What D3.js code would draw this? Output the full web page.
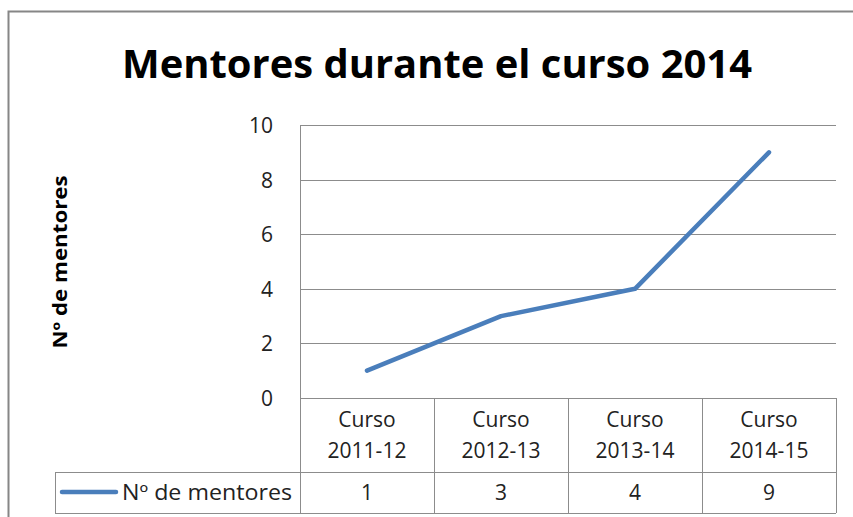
<!DOCTYPE html>
<html>
<head>
<meta charset="utf-8">
<script src="https://cdn.jsdelivr.net/npm/d3@7"></script>
<style>
  body { margin: 0; background: #fff; }
  text { font-family: "Open Sans", "DejaVu Sans", sans-serif; }
</style>
</head>
<body>
<script>
var w = 853;
var h = 517;

// data
var cursos = ["Curso 2011-12", "Curso 2012-13", "Curso 2013-14", "Curso 2014-15"];
var mentores = [1, 3, 4, 9];
var yTicks = [0, 2, 4, 6, 8, 10];
var serie = "Nº de mentores";
var titulo = "Mentores durante el curso 2014";

var plotL = 300, plotR = 836, plotT = 125, plotB = 398;
var legendLeft = 55, row1 = 472, row2 = 513;
var fs = 21;

var svg = d3.select("body").append("svg")
  .attr("width", w)
  .attr("height", h);

// chart border
svg.append("rect")
  .attr("x", 8.5).attr("y", 11.5)
  .attr("width", 860).attr("height", 520)
  .attr("fill", "none").attr("stroke", "#868686").attr("stroke-width", 2);

var x = d3.scaleBand().domain(cursos).range([plotL, plotR]);
var y = d3.scaleLinear().domain([0, 10]).range([plotB, plotT]);

// grid lines
svg.selectAll(".grid")
  .data(yTicks)
  .enter().append("line")
  .attr("x1", plotL).attr("x2", plotR)
  .attr("y1", function(d) { return Math.round(y(d)) + 0.5; })
  .attr("y2", function(d) { return Math.round(y(d)) + 0.5; })
  .attr("stroke", "#8c8c8c").attr("stroke-width", 1);

// y axis line
svg.append("line")
  .attr("x1", plotL + 0.5).attr("x2", plotL + 0.5)
  .attr("y1", plotT).attr("y2", plotB)
  .attr("stroke", "#8c8c8c");

// y tick labels
svg.selectAll(".ylab")
  .data(yTicks)
  .enter().append("text")
  .attr("x", 273)
  .attr("y", function(d) { return y(d) + 8; })
  .attr("text-anchor", "end")
  .attr("font-size", fs)
  .attr("fill", "#222")
  .text(function(d) { return d; });

// title
svg.append("text")
  .attr("x", 437).attr("y", 78)
  .attr("text-anchor", "middle")
  .attr("font-size", 40)
  .attr("font-weight", "bold")
  .attr("textLength", 630)
  .attr("lengthAdjust", "spacingAndGlyphs")
  .attr("fill", "#000")
  .text(titulo);

// y axis title
svg.append("text")
  .attr("transform", "translate(67,262) rotate(-90)")
  .attr("text-anchor", "middle")
  .attr("font-size", 19)
  .attr("font-weight", "bold")
  .attr("textLength", 173)
  .attr("lengthAdjust", "spacingAndGlyphs")
  .text(serie);

// data table
var gt = svg.append("g").attr("stroke", "#8c8c8c").attr("stroke-width", 1);
gt.append("line").attr("x1", legendLeft).attr("x2", plotR)
  .attr("y1", row1 + 0.5).attr("y2", row1 + 0.5);
gt.append("line").attr("x1", legendLeft).attr("x2", plotR)
  .attr("y1", row2 + 0.5).attr("y2", row2 + 0.5);
gt.append("line").attr("x1", legendLeft + 0.5).attr("x2", legendLeft + 0.5)
  .attr("y1", row1).attr("y2", row2);
gt.selectAll(".vl")
  .data(cursos.concat(["end"]))
  .enter().append("line")
  .attr("x1", function(d, i) { return Math.round(plotL + i * x.bandwidth()) + 0.5; })
  .attr("x2", function(d, i) { return Math.round(plotL + i * x.bandwidth()) + 0.5; })
  .attr("y1", plotB).attr("y2", row2);

// category labels
cursos.forEach(function(c) {
  var parts = c.split(" ");
  var t = svg.append("text")
    .attr("text-anchor", "middle")
    .attr("font-size", fs)
    .attr("fill", "#222");
  t.append("tspan").attr("x", x(c) + x.bandwidth() / 2).attr("y", 427).text(parts[0]);
  t.append("tspan").attr("x", x(c) + x.bandwidth() / 2).attr("y", 458).text(parts[1]);
});

// values in table
svg.selectAll(".val")
  .data(mentores)
  .enter().append("text")
  .attr("x", function(d, i) { return x(cursos[i]) + x.bandwidth() / 2; })
  .attr("y", 500)
  .attr("text-anchor", "middle")
  .attr("font-size", fs)
  .attr("fill", "#222")
  .text(function(d) { return d; });

// legend key
svg.append("line")
  .attr("x1", 62).attr("x2", 116)
  .attr("y1", 492).attr("y2", 492)
  .attr("stroke", "#4a7ebb").attr("stroke-width", 4.5)
  .attr("stroke-linecap", "round");
svg.append("text")
  .attr("x", 122).attr("y", 500)
  .attr("font-size", fs)
  .attr("fill", "#222")
  .attr("textLength", 170)
  .attr("lengthAdjust", "spacingAndGlyphs")
  .text(serie);

// the line
var line = d3.line()
  .x(function(d, i) { return x(cursos[i]) + x.bandwidth() / 2; })
  .y(function(d) { return y(d); });

svg.append("path")
  .datum(mentores)
  .attr("d", line)
  .attr("fill", "none")
  .attr("stroke", "#4a7ebb")
  .attr("stroke-width", 4.5)
  .attr("stroke-linecap", "round")
  .attr("stroke-linejoin", "round");
</script>
</body>
</html>
